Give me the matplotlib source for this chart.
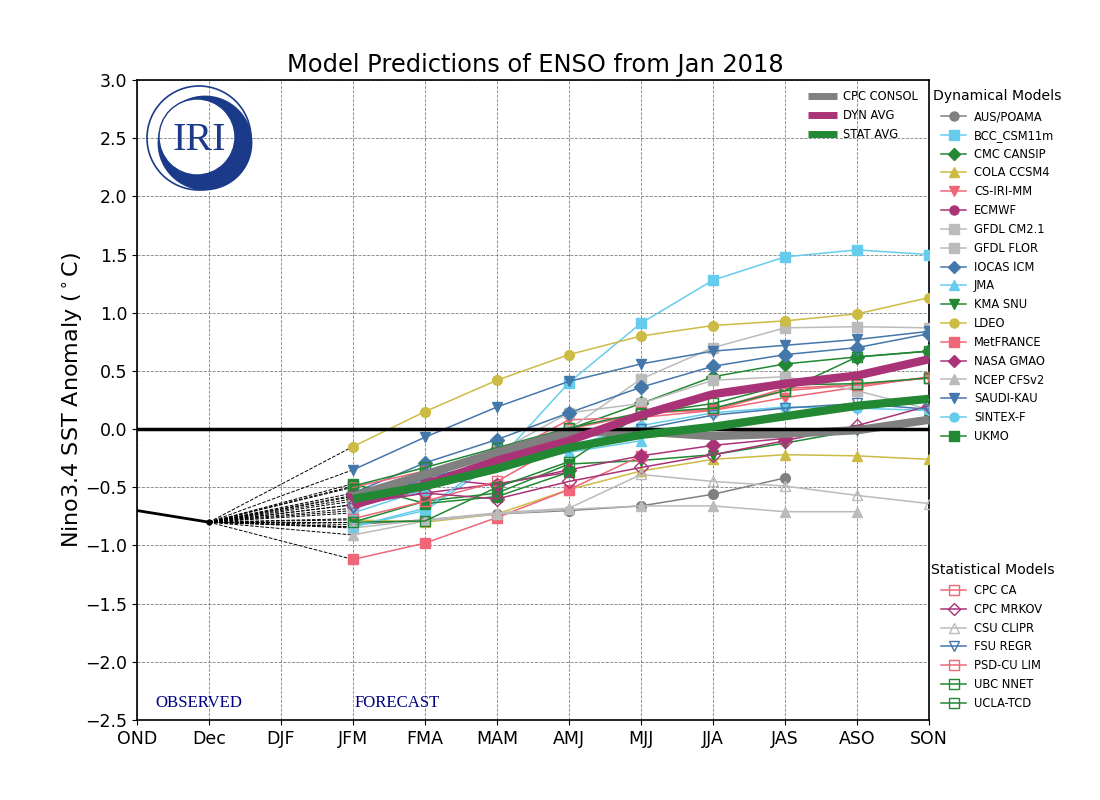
import numpy as np
import matplotlib
matplotlib.use("Agg")
import matplotlib.pyplot as plt
from matplotlib.patches import Circle, Polygon
from matplotlib.lines import Line2D

seasons = ['OND','Dec','DJF','JFM','FMA','MAM','AMJ','MJJ','JJA','JAS','ASO','SON']
forecast_seasons = seasons[3:]
observed_seasons = ['OND','Dec']
observed = [-0.70,-0.80]

aus_poama = [-0.82,-0.78,-0.73,-0.70,-0.66,-0.56,-0.42]
bcc = [-0.84,-0.70,-0.28,0.40,0.91,1.28,1.48,1.54,1.50]
cmc = [-0.60,-0.38,-0.17,0.00,0.22,0.45,0.56,0.62,0.67]
cola = [-0.78,-0.80,-0.73,-0.52,-0.36,-0.26,-0.22,-0.23,-0.26]
cs_iri = [-0.58,-0.44,-0.25,0.08,0.10,0.16,0.27,0.36,0.45]
ecmwf = [-0.62,-0.55,-0.47,-0.37]
gfdl_cm21 = [-0.70,-0.42,-0.17,0.00,0.43,0.70,0.87,0.88,0.87]
gfdl_flor = [-0.65,-0.50,-0.20,0.14,0.22,0.42,0.45,0.33,0.17]
iocas = [-0.55,-0.29,-0.09,0.14,0.36,0.54,0.64,0.70,0.82]
jma = [-0.72,-0.52,-0.30,-0.20,-0.10]
kma = [-0.80,-0.62,-0.55,-0.30,-0.27,-0.22,-0.12,-0.01,0.08]
ldeo = [-0.15,0.15,0.42,0.64,0.80,0.89,0.93,0.99,1.13]
metfrance = [-1.12,-0.98,-0.76,-0.52,-0.23]
nasa = [-0.57,-0.42,-0.48,-0.35,-0.23,-0.14,-0.08]
ncep = [-0.91,-0.79,-0.73,-0.69,-0.66,-0.66,-0.71,-0.71]
saudi = [-0.35,-0.07,0.19,0.41,0.56,0.67,0.72,0.77,0.84]
sintex = [-0.84,-0.68,-0.25,-0.15,0.03,0.14,0.19,0.18,0.16]
ukmo = [-0.47,-0.64,-0.58,-0.37]

cpc_ca = [-0.77,-0.62,-0.45,-0.10,0.15,0.16,0.33,0.38,0.44]
cpc_mrkov = [-0.65,-0.55,-0.60,-0.45,-0.33,-0.22,-0.10,0.03,0.20]
csu_clipr = [-0.85,-0.78,-0.72,-0.68,-0.39,-0.45,-0.49,-0.57,-0.64]
fsu_regr = [-0.68,-0.42,-0.28,-0.15,0.00,0.12,0.18,0.22,0.17]
psd_lim = [-0.50,-0.36,-0.20,0.00,0.13,0.17,0.35,0.38,0.44]
ubc_nnet = [-0.80,-0.79,-0.50,-0.28,0.13,0.22,0.38,0.39,0.44]
ucla_tcd = [-0.49,-0.33,-0.16,0.01,0.14,0.18,0.33,0.62,0.67]

cpc_consol = [-0.58,-0.39,-0.20,-0.03,-0.02,-0.06,-0.04,-0.01,0.08]
dyn_avg = [-0.65,-0.48,-0.27,-0.10,0.12,0.30,0.39,0.46,0.60]
stat_avg = [-0.60,-0.49,-0.34,-0.16,-0.05,0.02,0.11,0.20,0.26]

GRAY='#808080'; SKY='#66CCEE'; GREEN='#228833'; YEL='#CCBB44'; RED='#EE6677'
PUR='#AA3377'; LG='#BBBBBB'; BLUE='#4477AA'

dynamical = [
    ('AUS/POAMA', aus_poama, GRAY, 'o'), ('BCC_CSM11m', bcc, SKY, 's'),
    ('CMC CANSIP', cmc, GREEN, 'D'), ('COLA CCSM4', cola, YEL, '^'),
    ('CS-IRI-MM', cs_iri, RED, 'v'), ('ECMWF', ecmwf, PUR, 'o'),
    ('GFDL CM2.1', gfdl_cm21, LG, 's'), ('GFDL FLOR', gfdl_flor, LG, 's'),
    ('IOCAS ICM', iocas, BLUE, 'D'), ('JMA', jma, SKY, '^'),
    ('KMA SNU', kma, GREEN, 'v'), ('LDEO', ldeo, YEL, 'o'),
    ('MetFRANCE', metfrance, RED, 's'), ('NASA GMAO', nasa, PUR, 'D'),
    ('NCEP CFSv2', ncep, LG, '^'), ('SAUDI-KAU', saudi, BLUE, 'v'),
    ('SINTEX-F', sintex, SKY, 'o'), ('UKMO', ukmo, GREEN, 's'),
]
statistical = [
    ('CPC CA', cpc_ca, RED, 's'), ('CPC MRKOV', cpc_mrkov, PUR, 'D'),
    ('CSU CLIPR', csu_clipr, LG, '^'), ('FSU REGR', fsu_regr, BLUE, 'v'),
    ('PSD-CU LIM', psd_lim, RED, 's'), ('UBC NNET', ubc_nnet, GREEN, 's'),
    ('UCLA-TCD', ucla_tcd, GREEN, 's'),
]
averages = [('CPC CONSOL', cpc_consol, GRAY), ('DYN AVG', dyn_avg, PUR), ('STAT AVG', stat_avg, GREEN)]

plt.rcParams['font.family'] = 'DejaVu Sans'
fig = plt.figure(figsize=(11, 8), dpi=100)
ax = fig.add_axes([137/1100, 80/800, 792/1100, 640/800])
xpos = {s: i for i, s in enumerate(seasons)}

def xs(vals):
    return [xpos[s] for s in forecast_seasons[:len(vals)]]

ax.axhline(0, color='black', lw=2.5, zorder=4)
ax.plot([xpos[s] for s in observed_seasons], observed, color='black', lw=2, zorder=5)
ax.plot(xpos['Dec'], observed[-1], 'o', color='black', ms=3.5, zorder=5)

MS = 7
LW = 1.1
dyn_handles, stat_handles = [], []
for name, vals, c, m in dynamical:
    ax.plot([xpos['Dec'], xpos['JFM']], [observed[-1], vals[0]], color='black', lw=0.7, ls='--', zorder=2)
    ax.plot(xs(vals), vals, color=c, marker=m, ms=MS, lw=LW, mec=c, mfc=c, zorder=3)
    dyn_handles.append(Line2D([], [], color=c, marker=m, ms=6.5, lw=LW, mec=c, mfc=c, label=name))
for name, vals, c, m in statistical:
    ax.plot([xpos['Dec'], xpos['JFM']], [observed[-1], vals[0]], color='black', lw=0.7, ls='--', zorder=2)
    ax.plot(xs(vals), vals, color=c, marker=m, ms=MS, lw=LW, mec=c, mfc='none', zorder=3)
    stat_handles.append(Line2D([], [], color=c, marker=m, ms=6.5, lw=LW, mec=c, mfc='none', label=name))

avg_handles = []
for (name, vals, c), z in zip(averages, (3.5, 6, 7)):
    ax.plot(xs(vals), vals, color=c, lw=6, solid_capstyle='butt', zorder=z)
    avg_handles.append(Line2D([], [], color=c, lw=5, solid_capstyle='butt', label=name))

ax.set_xlim(0, 11)
ax.set_ylim(-2.5, 3.0)
ax.set_xticks(range(len(seasons)))
ax.set_xticklabels(seasons)
ax.set_yticks(np.arange(-2.5, 3.01, 0.5))
ax.tick_params(labelsize=12.5)
ax.grid(True, color='#808080', ls='--', lw=0.6)
ax.set_axisbelow(True)
for s in ax.spines.values():
    s.set_linewidth(1.2)
ax.set_title('Model Predictions of ENSO from Jan 2018', fontsize=17.4, pad=6, x=0.503)
ax.set_ylabel(r'Nino3.4 SST Anomaly $(^\circ$C)', fontsize=16, labelpad=0)

ax.text(0.26, -2.355, 'OBSERVED', family='Liberation Serif', color='navy', fontsize=12.1, va='center')
ax.text(3.02, -2.355, 'FORECAST', family='Liberation Serif', color='navy', fontsize=12.1, va='center')

LEG = dict(frameon=False, fontsize=8.3, borderaxespad=0, borderpad=0, loc='upper left', labelspacing=0.505)
leg_avg = ax.legend(handles=avg_handles, bbox_to_anchor=(808/1100, 1-90/800), bbox_transform=fig.transFigure,
                    handlelength=2.5, handletextpad=0.5, **LEG)
leg_avg.set_zorder(10)
fig.text(933/1100, 1-96/800, 'Dynamical Models', fontsize=10.1, va='center')
fig.legend(handles=dyn_handles, bbox_to_anchor=(941/1100, 1-110/800),
           handlelength=2.17, handletextpad=0.7, **LEG)
fig.text(931/1100, 1-570/800, 'Statistical Models', fontsize=10.1, va='center')
fig.legend(handles=stat_handles, bbox_to_anchor=(941/1100, 1-584/800),
           handlelength=2.17, handletextpad=0.7, **LEG)

# IRI logo, drawn in pixel coordinates on a transparent overlay
LOGO = '#1B3A8A'
lg = fig.add_axes([0, 0, 1, 1], zorder=20)
lg.set_xlim(0, 1100); lg.set_ylim(800, 0); lg.axis('off'); lg.patch.set_alpha(0)
lg.add_patch(Circle((199, 138), 52, fill=False, ec=LOGO, lw=1.2))
inner_c = np.array([197.0, 137.0]); inner_r = 38.0
outer_c = np.array([205.0, 143.0]); outer_r = 47.4
lg.add_patch(Circle(inner_c, inner_r, fill=False, ec=LOGO, lw=1.0))
theta = np.linspace(0, 2*np.pi, 721)
u = np.c_[np.cos(theta), np.sin(theta)]
d = inner_c - outer_c
b = u @ d
rad = -b + np.sqrt(b**2 - (d @ d - outer_r**2))
keep = rad > inner_r
start = np.argmax(keep & ~np.roll(keep, 1))
idx = np.roll(np.arange(len(theta)), -start)
idx = idx[keep[idx]]
out_pts = inner_c + u[idx] * rad[idx, None]
in_pts = inner_c + u[idx[::-1]] * inner_r
lg.add_patch(Polygon(np.r_[out_pts, in_pts], closed=True, fc=LOGO, ec='none'))
lg.text(199, 140, 'IRI', family='Liberation Serif', color=LOGO, fontsize=29, ha='center', va='center')

fig.savefig('out.png', dpi=100)
